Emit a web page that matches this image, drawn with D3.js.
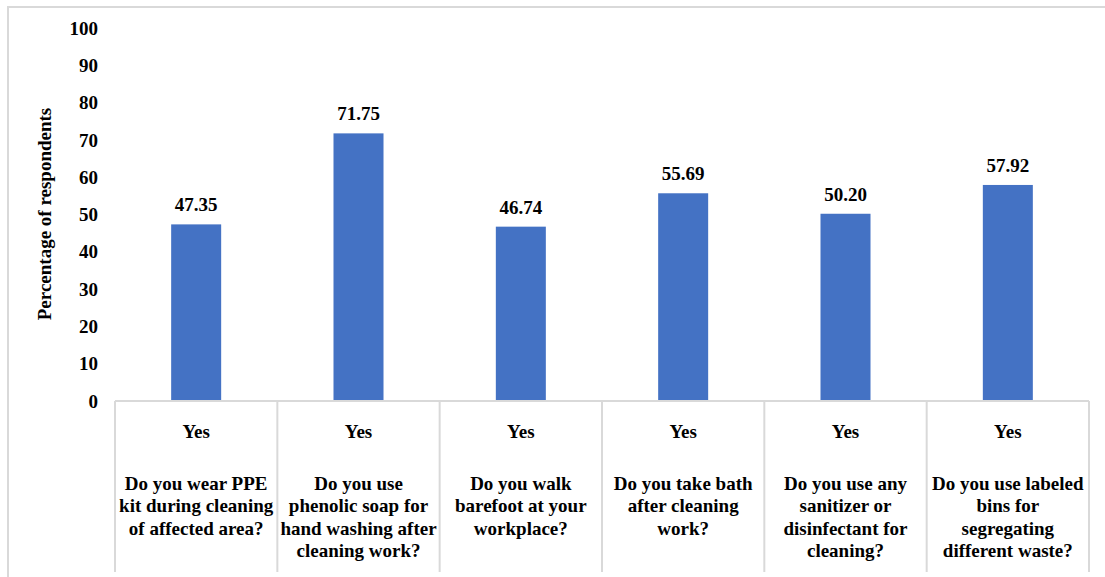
<!DOCTYPE html>
<html>
<head>
<meta charset="utf-8">
<script src="https://cdn.jsdelivr.net/npm/d3@7"></script>
<style>
  html, body { margin: 0; padding: 0; background: #fff; }
  svg { display: block; }
  svg text { font-family: "Times New Roman", "Liberation Serif", "DejaVu Serif", serif; font-weight: 700; }
</style>
</head>
<body>
<svg id="chart" width="1105" height="577"></svg>
<script>
// Survey responses: share of respondents answering "Yes"
const questions = [
  ["Do you wear PPE", "kit during cleaning", "of affected area?"],
  ["Do you use", "phenolic soap for", "hand washing after", "cleaning work?"],
  ["Do you walk", "barefoot at your", "workplace?"],
  ["Do you take bath", "after cleaning", "work?"],
  ["Do you use any", "sanitizer or", "disinfectant for", "cleaning?"],
  ["Do you use labeled", "bins for", "segregating", "different waste?"]
];
const answers = ["Yes", "Yes", "Yes", "Yes", "Yes", "Yes"];
const values = [47.35, 71.75, 46.74, 55.69, 50.20, 57.92];
const yTicks = [0, 10, 20, 30, 40, 50, 60, 70, 80, 90, 100];
const yTitle = "Percentage of respondents";

const svg = d3.select("#chart")
  .attr("font-family", "'Times New Roman', 'Liberation Serif', serif")
  .attr("font-weight", "bold");
const grid = "#d9d9d9";
const fs = 19;

// chart frame
svg.append("rect")
  .attr("x", 8).attr("y", 7).attr("width", 1110).attr("height", 580)
  .attr("fill", "none").attr("stroke", grid).attr("stroke-width", 2);

const plotLeft = 115, plotRight = 1089, plotTop = 28, base = 401, axisBottom = 572;
const idx = d3.range(values.length);

const x = d3.scaleBand().domain(idx).range([plotLeft, plotRight]).padding(0);
const xBar = d3.scaleBand().domain([0]).range([0, x.bandwidth()]).padding(0.529);
const y = d3.scaleLinear().domain([0, 100]).range([base, plotTop]);

// y tick labels
svg.append("g").selectAll("text").data(yTicks).join("text")
  .attr("x", 98).attr("y", d => y(d)).attr("dy", "0.35em")
  .attr("text-anchor", "end").attr("font-size", fs).attr("fill", "#000")
  .text(d => d);

// y title
svg.append("text")
  .attr("transform", `translate(51,214) rotate(-90)`)
  .attr("text-anchor", "middle").attr("font-size", fs).attr("fill", "#000")
  .text(yTitle);

// bars
svg.append("g").selectAll("rect").data(idx).join("rect")
  .attr("x", i => x(i) + xBar(0)).attr("width", xBar.bandwidth())
  .attr("y", i => y(values[i])).attr("height", i => base - y(values[i]))
  .attr("fill", "#4472C4");

// value labels
svg.append("g").selectAll("text").data(idx).join("text")
  .attr("x", i => x(i) + x.bandwidth() / 2).attr("y", i => y(values[i]) - 13)
  .attr("text-anchor", "middle").attr("font-size", fs).attr("fill", "#000")
  .text(i => values[i].toFixed(2));

// category axis: baseline and separators
svg.append("line")
  .attr("x1", plotLeft).attr("x2", plotRight).attr("y1", base).attr("y2", base)
  .attr("stroke", grid).attr("stroke-width", 2);
svg.append("g").selectAll("line").data(d3.range(values.length + 1)).join("line")
  .attr("x1", i => plotLeft + i * x.step()).attr("x2", i => plotLeft + i * x.step())
  .attr("y1", base).attr("y2", axisBottom)
  .attr("stroke", grid).attr("stroke-width", 2);

// answer labels
svg.append("g").selectAll("text").data(idx).join("text")
  .attr("x", i => x(i) + x.bandwidth() / 2).attr("y", 431).attr("dy", "0.35em")
  .attr("text-anchor", "middle").attr("font-size", fs).attr("fill", "#000")
  .text(i => answers[i]);

// question labels
const q = svg.append("g").selectAll("text").data(idx).join("text")
  .attr("text-anchor", "middle").attr("font-size", fs).attr("fill", "#000");
q.selectAll("tspan").data(i => questions[i].map(line => ({ i, line }))).join("tspan")
  .attr("x", d => x(d.i) + x.bandwidth() / 2)
  .attr("y", (d, k) => 483 + k * 22.6).attr("dy", "0.35em")
  .text(d => d.line);
</script>
</body>
</html>
